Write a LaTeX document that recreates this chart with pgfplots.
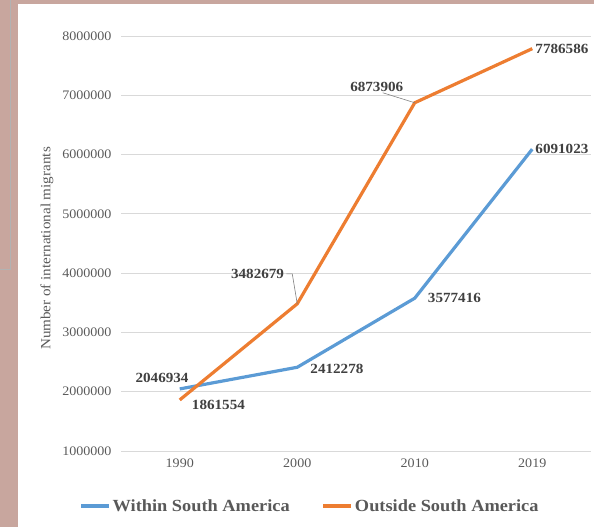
\documentclass[border=0pt]{standalone}
\usepackage{pgfplots}
\pgfplotsset{compat=1.18}
\usepackage{fontspec}
\setmainfont{Liberation Serif}[FakeStretch=1.08]
\definecolor{cblue}{HTML}{5B9BD5}
\definecolor{corange}{HTML}{ED7D31}
\definecolor{tickgray}{HTML}{595959}
\definecolor{lblgray}{HTML}{404040}
\definecolor{gridgray}{HTML}{D9D9D9}
\definecolor{edge}{RGB}{200,166,158}
\begin{document}
\begin{tikzpicture}[x=1pt,y=1pt]
\path[use as bounding box] (0,0) rectangle (594,527);
\fill[edge] (0,0) rectangle (18,527);
\fill[edge] (0,523) rectangle (594,527);
\draw[gray!60, line width=0.8pt] (10,527) -- (10,258) -- (0,258);
\begin{axis}[
  at={(121pt,76pt)}, anchor=south west,
  scale only axis, width=470pt, height=415pt,
  xmin=-0.5, xmax=3.5, ymin=1000000, ymax=8000000,
  xtick={0,1,2,3}, xticklabels={1990,2000,2010,2019},
  ytick={1000000,2000000,3000000,4000000,5000000,6000000,7000000,8000000},
  scaled y ticks=false,
  yticklabel style={/pgf/number format/fixed,/pgf/number format/1000 sep={}},
  /pgf/number format/assume math mode=true,
  ticklabel style={font=\fontsize{13}{13}\selectfont, text=tickgray},
  xticklabel style={yshift=-4pt},
  yticklabel style={xshift=-6pt},
  axis line style={draw=none}, major tick length=0pt,
  ymajorgrids, grid style={gridgray, line width=0.8pt},
  ylabel={Number of international migrants},
  ylabel style={font=\fontsize{14}{14}\selectfont, text=tickgray, at={(axis description cs:0,0.5)}, anchor=south, xshift=-5pt, yshift=64pt},
  legend style={at={(189pt,-55pt)}, anchor=center, draw=none, fill=none,
    legend columns=2, font=\bfseries\fontsize{17}{17}\selectfont, text=tickgray,
    /tikz/every even column/.style={column sep=30pt}},
  legend image code/.code={\draw[line width=3.2pt,#1] (0pt,0pt) -- (28pt,0pt);},
  clip=false,
]
\addplot[cblue, line width=3.2pt] coordinates {(0,2046934) (1,2412278) (2,3577416) (3,6091023)};
\addlegendentry{Within South America}
\addplot[corange, line width=3.2pt] coordinates {(0,1861554) (1,3482679) (2,6873906) (3,7786586)};
\addlegendentry{Outside South America}
\tikzset{lbl/.style={font=\bfseries\fontsize{14}{14}\selectfont, text=lblgray, inner sep=1pt}}
\node[lbl, anchor=south east] at (axis cs:0,2046934) [xshift=10pt,yshift=5pt] {2046934};
\node[lbl, anchor=north west] at (axis cs:0,1861554) [xshift=11pt,yshift=1pt] {1861554};
\node[lbl, anchor=west] at (axis cs:1,2412278) [xshift=12pt,yshift=-2pt] {2412278};
\node[lbl, anchor=east] (a) at (axis cs:1,3482679) [xshift=-12pt,yshift=30pt] {3482679};
\draw[gray, line width=0.6pt] ([xshift=1pt]a.east) -- ++(6pt,0pt) -- (axis cs:1,3482679);
\node[lbl, anchor=west] at (axis cs:2,3577416) [xshift=12pt,yshift=0pt] {3577416};
\node[lbl, anchor=south] (b) at (axis cs:2,6873906) [xshift=-38pt,yshift=10pt] {6873906};
\draw[gray, line width=0.6pt] ([xshift=6pt]b.south) -- (axis cs:2,6873906);
\node[lbl, anchor=west] at (axis cs:3,7786586) [xshift=2pt] {7786586};
\node[lbl, anchor=west] at (axis cs:3,6091023) [xshift=2pt] {6091023};
\end{axis}
\end{tikzpicture}
\end{document}
